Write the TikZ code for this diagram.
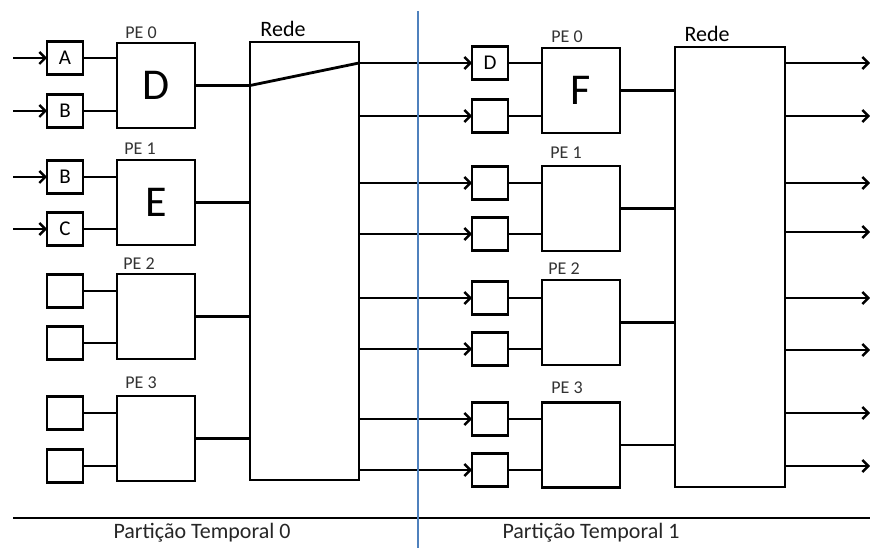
\documentclass[tikz,border=0pt]{standalone}
\usepackage{fontspec}
\setmainfont{Carlito}
\usetikzlibrary{arrows.meta}
\definecolor{sepblue}{HTML}{4F81BD}
\tikzset{
  ln/.style={line width=2.8pt},
  arr/.style={line width=2.8pt,-{Straight Barb[length=6pt,width=12pt,line width=2.4pt]}},
  inbox/.style={draw,line width=2.8pt,minimum width=36pt,minimum height=33pt,inner sep=0pt,outer sep=0pt,font=\fontsize{21}{21}\selectfont},
  pebox/.style={draw,line width=2.8pt,minimum width=78pt,minimum height=85pt,inner sep=0pt,outer sep=0pt,font=\fontsize{44}{44}\selectfont},
  redebox/.style={draw,line width=2.8pt,minimum width=109pt,minimum height=438pt,inner sep=0pt,outer sep=0pt},
  pelabel/.style={font=\fontsize{18}{18}\selectfont,text=black!80},
  redelabel/.style={font=\fontsize{22}{22}\selectfont},
  partlabel/.style={font=\fontsize{22}{22}\selectfont,text=black!85}
}
\begin{document}
\begin{tikzpicture}[x=1pt,y=-1pt]
\useasboundingbox[fill=white] (0,0) rectangle (870,548);
% left partition
\coordinate (lstart) at (13,0);
\coordinate (rend) at (870,0);
\node[inbox] (a0) at (65,58) {A};
\node[inbox] (b0) at (65,111) {B};
\node[inbox] (b1) at (65,177) {B};
\node[inbox] (c1) at (65,229) {C};
\node[inbox] (x2a) at (65,291) {};
\node[inbox] (x2b) at (65,343) {};
\node[inbox] (x3a) at (65,413) {};
\node[inbox] (x3b) at (65,466) {};
\node[pebox] (pe0) at (156,85.5) {D};
\node[pebox] (pe1) at (156,202.5) {E};
\node[pebox] (pe2) at (156,316.5) {};
\node[pebox] (pe3) at (156,438.5) {};
\node[redebox] (rede0) at (304.5,261) {};
\node[pelabel] (lpe0) at (141,33) {PE 0};
\node[pelabel] (lpe1) at (140,149) {PE 1};
\node[pelabel] (lpe2) at (139,264) {PE 2};
\node[pelabel] (lpe3) at (141,383) {PE 3};
\node[redelabel] (lrede0) at (283,29) {Rede};
% input arrows
\foreach \n in {a0,b0,b1,c1} {
  \draw[arr] (\n.west -| lstart) -- (\n.west);
}
% box to PE
\foreach \n/\p in {a0/pe0,b0/pe0,b1/pe1,c1/pe1,x2a/pe2,x2b/pe2,x3a/pe3,x3b/pe3} {
  \draw[ln] (\n.east) -- (\n.east -| \p.west);
}
% PE to Rede
\foreach \p in {pe1,pe2,pe3} {
  \draw[ln] (\p.east) -- (\p.east -| rede0.west);
}
% right partition
\node[inbox] (d0) at (490,63) {D};
\node[inbox] (y0b) at (490,116) {};
\node[inbox] (y1a) at (490,183) {};
\node[inbox] (y1b) at (490,234) {};
\node[inbox] (y2a) at (490,298) {};
\node[inbox] (y2b) at (490,349) {};
\node[inbox] (y3a) at (490,419) {};
\node[inbox] (y3b) at (490,470) {};
\node[pebox] (qe0) at (581,90.5) {F};
\node[pebox] (qe1) at (581,208.5) {};
\node[pebox] (qe2) at (581,322.5) {};
\node[pebox] (qe3) at (581,445) {};
\node[redebox,minimum width=110pt,minimum height=440pt] (rede1) at (730,267) {};
\node[pelabel] (rpe0) at (567,37) {PE 0};
\node[pelabel] (rpe1) at (566,153) {PE 1};
\node[pelabel] (rpe2) at (564,269) {PE 2};
\node[pelabel] (rpe3) at (567,388) {PE 3};
\node[redelabel] (lrede1) at (707,34) {Rede};
% crossing diagonal in first network
\draw[ln] (pe0.east) -- (pe0.east -| rede0.west) -- (d0.west -| rede0.east);
\draw[arr] (d0.west -| rede0.east) -- (d0.west);
\foreach \n in {y0b,y1a,y1b,y2a,y2b,y3a,y3b} {
  \draw[arr] (\n.west -| rede0.east) -- (\n.west);
}
\foreach \n/\p in {d0/qe0,y0b/qe0,y1a/qe1,y1b/qe1,y2a/qe2,y2b/qe2,y3a/qe3,y3b/qe3} {
  \draw[ln] (\n.east) -- (\n.east -| \p.west);
}
\foreach \p in {qe0,qe1,qe2,qe3} {
  \draw[ln] (\p.east) -- (\p.east -| rede1.west);
}
\foreach \yy in {63,116,183,232,298,350,413,466} {
  \draw[arr] (rede1.east |- 0,\yy) -- (rend |- 0,\yy);
}
% bottom line, separator and labels
\coordinate (bl) at (13,518);
\coordinate (br) at (870,518);
\draw[ln] (bl) -- (br);
\coordinate (st) at (418,11);
\coordinate (sb) at (418,548);
\draw[sepblue,line width=2.2pt] (st) -- (sb);
\node[partlabel] (p0) at (202,533) {Partição Temporal 0};
\node[partlabel] (p1) at (591,533) {Partição Temporal 1};
\end{tikzpicture}
\end{document}
